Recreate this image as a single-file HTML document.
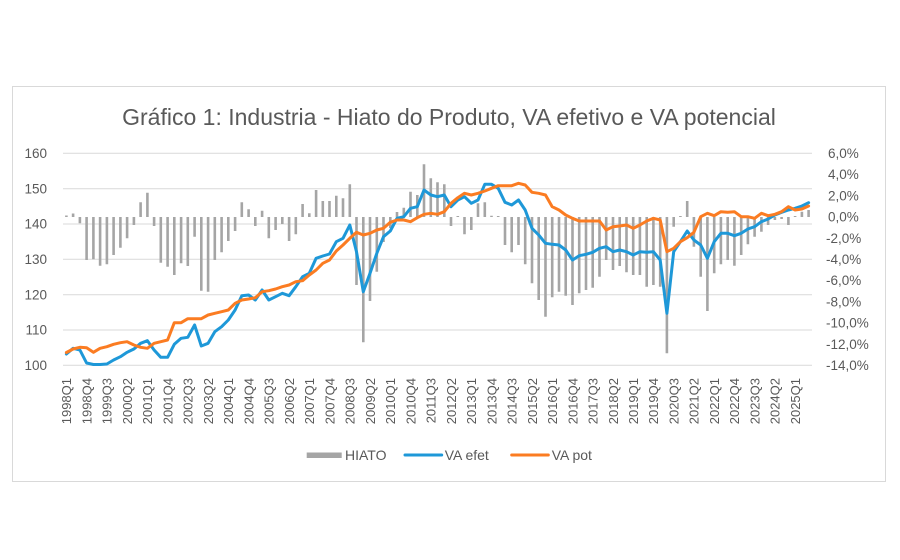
<!DOCTYPE html>
<html>
<head>
<meta charset="utf-8">
<style>
html,body{margin:0;padding:0;background:#fff;}
svg{display:block;}
text{font-family:"Liberation Sans",Arial,sans-serif;fill:#595959;}
</style>
</head>
<body>
<svg width="900" height="560" viewBox="0 0 900 560" xmlns="http://www.w3.org/2000/svg">
<rect x="0" y="0" width="900" height="560" fill="#fff"/>
<rect x="12.5" y="86.5" width="873" height="395" fill="#fff" stroke="#d9d9d9" stroke-width="1"/>

<text x="449" y="125" text-anchor="middle" font-size="23">Gráfico 1: Industria - Hiato do Produto, VA efetivo e VA potencial</text>

<g stroke="#d9d9d9" stroke-width="1">
<line x1="63" y1="153.3" x2="812" y2="153.3"/>
<line x1="63" y1="188.7" x2="812" y2="188.7"/>
<line x1="63" y1="224" x2="812" y2="224"/>
<line x1="63" y1="259.3" x2="812" y2="259.3"/>
<line x1="63" y1="294.7" x2="812" y2="294.7"/>
<line x1="63" y1="330" x2="812" y2="330"/>
<line x1="63" y1="365.3" x2="812" y2="365.3"/>
</g>

<g font-size="13.5" text-anchor="end">
<text x="47" y="158">160</text>
<text x="47" y="193.4">150</text>
<text x="47" y="228.7">140</text>
<text x="47" y="264">130</text>
<text x="47" y="299.4">120</text>
<text x="47" y="334.7">110</text>
<text x="47" y="370">100</text>
</g>

<g font-size="13.5" text-anchor="start">
<text x="828" y="158">6,0%</text>
<text x="828" y="179.2">4,0%</text>
<text x="828" y="200.4">2,0%</text>
<text x="828" y="221.6">0,0%</text>
<text x="826" y="242.8">-2,0%</text>
<text x="826" y="264">-4,0%</text>
<text x="826" y="285.2">-6,0%</text>
<text x="826" y="306.4">-8,0%</text>
<text x="826" y="327.6">-10,0%</text>
<text x="826" y="348.8">-12,0%</text>
<text x="826" y="370">-14,0%</text>
</g>

<path fill="none" stroke="#a5a5a5" stroke-width="2.6" d="M66.4 217V215.5M73.1 217V213.5M79.9 217V223.3M86.6 217V260M93.4 217V259.3M100.1 217V265.7M106.9 217V264.3M113.6 217V255M120.4 217V247.7M127.1 217V238.3M133.9 217V225M140.6 217V202.3M147.4 217V192.7M154.1 217V226M160.8 217V262.7M167.6 217V266.7M174.3 217V275M181.1 217V263.3M187.8 217V266M194.6 217V236.7M201.3 217V290.7M208.1 217V291.7M214.8 217V260M221.6 217V252.3M228.3 217V241M235.1 217V231M241.8 217V202.3M248.6 217V209.3M255.3 217V226M262.1 217V210.7M268.8 217V238.3M275.6 217V230M282.3 217V224M289.1 217V241M295.8 217V234.3M302.6 217V204M309.3 217V213.3M316.1 217V190M322.8 217V201M329.5 217V201M336.3 217V195.7M343.0 217V198.3M349.8 217V184.3M356.5 217V285M363.3 217V342.3M370.0 217V301M376.8 217V271.7M383.5 217V242M390.3 217V228M397.0 217V212M403.8 217V207.7M410.5 217V191.7M417.3 217V195M424.0 217V164.3M430.8 217V178.3M437.5 217V182.3M444.3 217V184.3M451.0 217V226M457.8 217V216M464.5 217V234.3M471.3 217V230M478.0 217V203.3M484.8 217V202.3M491.5 217V215.7M498.2 217V216M505.0 217V245M511.7 217V252.3M518.5 217V245M525.2 217V264.3M532.0 217V283.3M538.7 217V300M545.5 217V316.7M552.2 217V297.3M559.0 217V291.7M565.7 217V295.7M572.5 217V305M579.2 217V293.3M586.0 217V290M592.7 217V287.7M599.5 217V276.7M606.2 217V260M613.0 217V270M619.7 217V266M626.5 217V272.3M633.2 217V275M639.9 217V275M646.7 217V286.7M653.4 217V285M660.2 217V286.7M666.9 217V353.3M673.7 217V226.7M680.4 217V216M687.2 217V201M693.9 217V246.7M700.7 217V276.7M707.4 217V311M714.2 217V273.3M720.9 217V264.3M727.7 217V260M734.4 217V265.7M741.2 217V255M747.9 217V244.3M754.6 217V236.7M761.4 217V231.7M768.1 217V225M774.9 217V220M781.6 217V219M788.4 217V225M795.1 217V216M801.9 217V211.7M808.6 217V210"/>

<polyline fill="none" stroke="#1e98d8" stroke-width="3" stroke-linejoin="round" stroke-linecap="round" points="66.4,354 73.1,348.3 79.9,350 86.6,363 93.4,364.5 100.1,364.5 106.9,364 113.6,360 120.4,356.7 127.1,352.3 133.9,349 140.6,343.3 147.4,340.7 154.1,350 160.8,357.3 167.6,357.3 174.3,344.3 181.1,338.3 187.8,337.3 194.6,325 201.3,346 208.1,343.3 214.8,331.7 221.6,326.7 228.3,320 235.1,310 241.8,295.7 248.6,295 255.3,300 262.1,290 268.8,300 275.6,296.7 282.3,293.3 289.1,295.7 295.8,286.7 302.6,276.7 309.3,273.3 316.1,258.3 322.8,256 329.5,254 336.3,241.7 343.0,238.3 349.8,225 356.5,251.7 363.3,291.7 370.0,273.3 376.8,253.3 383.5,236.7 390.3,231 397.0,218.3 403.8,216.7 410.5,208.3 417.3,206.7 424.0,190 430.8,195 437.5,196.7 444.3,195 451.0,206.7 457.8,200 464.5,196.7 471.3,203.3 478.0,200 484.8,184.3 491.5,184.3 498.2,188.3 505.0,202.3 511.7,205 518.5,200 525.2,210 532.0,228.3 538.7,235 545.5,243.3 552.2,244.3 559.0,245 565.7,250 572.5,260 579.2,255.7 586.0,254.3 592.7,252.3 599.5,248.3 606.2,246.7 613.0,251.7 619.7,250 626.5,251.7 633.2,255 639.9,251.7 646.7,252.3 653.4,251.7 660.2,260 666.9,313.3 673.7,251.7 680.4,241.7 687.2,231 693.9,240 700.7,245 707.4,258.3 714.2,241.7 720.9,233.3 727.7,233.3 734.4,235.7 741.2,233.3 747.9,229 754.6,226.7 761.4,221.7 768.1,219 774.9,215 781.6,212.3 788.4,210 795.1,208.3 801.9,206 808.6,202.7"/>

<polyline fill="none" stroke="#fb7c22" stroke-width="3" stroke-linejoin="round" stroke-linecap="round" points="66.4,352.5 73.1,349 79.9,347.3 86.6,347.7 93.4,352.3 100.1,348.3 106.9,346.7 113.6,344.3 120.4,342.7 127.1,341.7 133.9,345 140.6,347.3 147.4,348.3 154.1,343.3 160.8,341.7 167.6,340 174.3,322.7 181.1,322.7 187.8,318.7 194.6,318.7 201.3,318.7 208.1,315 214.8,313.3 221.6,311.7 228.3,310 235.1,303.3 241.8,300 248.6,299 255.3,297.7 262.1,291.7 268.8,290.7 275.6,289 282.3,286.7 289.1,285 295.8,281.7 302.6,280.7 309.3,275 316.1,270 322.8,263.3 329.5,260 336.3,251 343.0,245 349.8,238.3 356.5,232.3 363.3,235 370.0,233.3 376.8,230 383.5,228.3 390.3,222.3 397.0,220 403.8,220 410.5,221.7 417.3,217.7 424.0,214.3 430.8,213.3 437.5,214.3 444.3,211.7 451.0,203.3 457.8,197.7 464.5,193.3 471.3,195 478.0,193.3 484.8,191 491.5,188.3 498.2,185.7 505.0,185.7 511.7,185.7 518.5,183.3 525.2,185 532.0,192.3 538.7,193.3 545.5,195 552.2,206.7 559.0,210 565.7,215 572.5,218.3 579.2,221 586.0,221 592.7,221 599.5,221 606.2,230 613.0,226.7 619.7,226 626.5,225 633.2,228.3 639.9,225 646.7,221 653.4,218.3 660.2,220 666.9,251.7 673.7,248.3 680.4,241.7 687.2,237.7 693.9,232.3 700.7,216.7 707.4,213.3 714.2,215.7 720.9,211.7 727.7,212.3 734.4,211.7 741.2,216.7 747.9,216.7 754.6,218.3 761.4,213.3 768.1,215.7 774.9,214.3 781.6,211.7 788.4,206.7 795.1,210 801.9,209 808.6,206"/>

<g font-size="13" text-anchor="end">
<text transform="translate(71.2,378) rotate(-90)">1998Q1</text>
<text transform="translate(91.4,378) rotate(-90)">1998Q4</text>
<text transform="translate(111.7,378) rotate(-90)">1999Q3</text>
<text transform="translate(131.9,378) rotate(-90)">2000Q2</text>
<text transform="translate(152.2,378) rotate(-90)">2001Q1</text>
<text transform="translate(172.4,378) rotate(-90)">2001Q4</text>
<text transform="translate(192.6,378) rotate(-90)">2002Q3</text>
<text transform="translate(212.9,378) rotate(-90)">2003Q2</text>
<text transform="translate(233.1,378) rotate(-90)">2004Q1</text>
<text transform="translate(253.4,378) rotate(-90)">2004Q4</text>
<text transform="translate(273.6,378) rotate(-90)">2005Q3</text>
<text transform="translate(293.9,378) rotate(-90)">2006Q2</text>
<text transform="translate(314.1,378) rotate(-90)">2007Q1</text>
<text transform="translate(334.3,378) rotate(-90)">2007Q4</text>
<text transform="translate(354.6,378) rotate(-90)">2008Q3</text>
<text transform="translate(374.8,378) rotate(-90)">2009Q2</text>
<text transform="translate(395.1,378) rotate(-90)">2010Q1</text>
<text transform="translate(415.3,378) rotate(-90)">2010Q4</text>
<text transform="translate(435.6,378) rotate(-90)">2011Q3</text>
<text transform="translate(455.8,378) rotate(-90)">2012Q2</text>
<text transform="translate(476.1,378) rotate(-90)">2013Q1</text>
<text transform="translate(496.3,378) rotate(-90)">2013Q4</text>
<text transform="translate(516.5,378) rotate(-90)">2014Q3</text>
<text transform="translate(536.8,378) rotate(-90)">2015Q2</text>
<text transform="translate(557.0,378) rotate(-90)">2016Q1</text>
<text transform="translate(577.3,378) rotate(-90)">2016Q4</text>
<text transform="translate(597.5,378) rotate(-90)">2017Q3</text>
<text transform="translate(617.8,378) rotate(-90)">2018Q2</text>
<text transform="translate(638.0,378) rotate(-90)">2019Q1</text>
<text transform="translate(658.2,378) rotate(-90)">2019Q4</text>
<text transform="translate(678.5,378) rotate(-90)">2020Q3</text>
<text transform="translate(698.7,378) rotate(-90)">2021Q2</text>
<text transform="translate(719.0,378) rotate(-90)">2022Q1</text>
<text transform="translate(739.2,378) rotate(-90)">2022Q4</text>
<text transform="translate(759.4,378) rotate(-90)">2023Q3</text>
<text transform="translate(779.7,378) rotate(-90)">2024Q2</text>
<text transform="translate(799.9,378) rotate(-90)">2025Q1</text>
</g>

<g font-size="14">
<rect x="306.7" y="452.5" width="35" height="5.5" fill="#a5a5a5"/>
<text x="345" y="460">HIATO</text>
<line x1="405" y1="455" x2="441.7" y2="455" stroke="#1e98d8" stroke-width="3" stroke-linecap="round"/>
<text x="444.7" y="460">VA efet</text>
<line x1="511.7" y1="455" x2="548.3" y2="455" stroke="#fb7c22" stroke-width="3" stroke-linecap="round"/>
<text x="551.7" y="460">VA pot</text>
</g>
</svg>
</body>
</html>
